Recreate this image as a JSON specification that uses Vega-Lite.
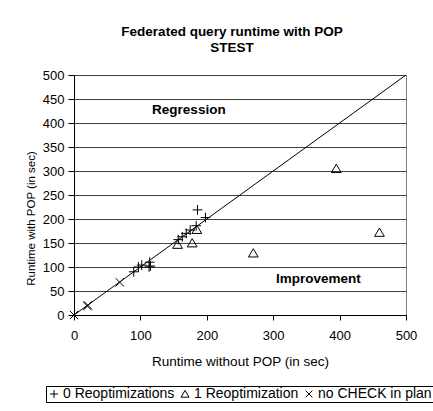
{
  "$schema": "https://vega.github.io/schema/vega-lite/v6.json",
  "width": 332,
  "height": 240,
  "autosize": {"type": "none"},
  "padding": {"left": 74, "top": 75, "right": 27, "bottom": 96},
  "title": {
    "text": ["Federated query runtime with POP", "STEST"],
    "fontSize": 13.5,
    "font": "Liberation Sans",
    "fontWeight": "bold",
    "lineHeight": 16,
    "anchor": "middle",
    "offset": 15,
    "dx": -8,
    "color": "black"
  },
  "config": {
    "view": {"stroke": "#808080"},
    "font": "Liberation Sans"
  },
  "encoding": {
    "x": {
      "field": "x",
      "type": "quantitative",
      "scale": {"domain": [0, 500], "nice": false},
      "axis": {
        "title": "Runtime without POP (in sec)",
        "values": [0, 100, 200, 300, 400, 500],
        "grid": false,
        "tickSize": 5,
        "tickColor": "black",
        "domainColor": "black",
        "labelFontSize": 13,
        "labelColor": "black",
        "labelPadding": 9,
        "labelFlush": false,
        "titleFontSize": 13.5,
        "titleFontWeight": "normal",
        "titleColor": "black",
        "titlePadding": 12
      }
    },
    "y": {
      "field": "y",
      "type": "quantitative",
      "scale": {"domain": [0, 500], "nice": false},
      "axis": {
        "title": "Runtime with POP (in sec)",
        "values": [0, 50, 100, 150, 200, 250, 300, 350, 400, 450, 500],
        "grid": true,
        "gridColor": "#404040",
        "gridOpacity": 1,
        "tickSize": 6,
        "tickColor": "black",
        "domainColor": "black",
        "labelFontSize": 13,
        "labelColor": "black",
        "labelPadding": 4,
        "labelFlush": false,
        "titleFontSize": 11.5,
        "titleFontWeight": "normal",
        "titleColor": "black",
        "titlePadding": 6,
        "titleY": 143
      }
    }
  },
  "layer": [
    {
      "data": {"values": [{"x": 0, "y": 0}, {"x": 500, "y": 500}]},
      "mark": {"type": "line", "color": "black", "strokeWidth": 1},
      "encoding": {}
    },
    {
      "data": {
        "values": [
          {"x": 90, "y": 90, "series": "0 Reoptimizations"},
          {"x": 97, "y": 100, "series": "0 Reoptimizations"},
          {"x": 102, "y": 104, "series": "0 Reoptimizations"},
          {"x": 113, "y": 100, "series": "0 Reoptimizations"},
          {"x": 115, "y": 102, "series": "0 Reoptimizations"},
          {"x": 114, "y": 110, "series": "0 Reoptimizations"},
          {"x": 157, "y": 157, "series": "0 Reoptimizations"},
          {"x": 163, "y": 163, "series": "0 Reoptimizations"},
          {"x": 169, "y": 170, "series": "0 Reoptimizations"},
          {"x": 175, "y": 177, "series": "0 Reoptimizations"},
          {"x": 184, "y": 186, "series": "0 Reoptimizations"},
          {"x": 186, "y": 219, "series": "0 Reoptimizations"},
          {"x": 198, "y": 203, "series": "0 Reoptimizations"},
          {"x": 156, "y": 147, "series": "1 Reoptimization"},
          {"x": 178, "y": 150, "series": "1 Reoptimization"},
          {"x": 185, "y": 178, "series": "1 Reoptimization"},
          {"x": 270, "y": 129, "series": "1 Reoptimization"},
          {"x": 395, "y": 305, "series": "1 Reoptimization"},
          {"x": 460, "y": 172, "series": "1 Reoptimization"},
          {"x": 0, "y": 0, "series": "no CHECK in plan"},
          {"x": 20, "y": 19, "series": "no CHECK in plan"},
          {"x": 21, "y": 20, "series": "no CHECK in plan"},
          {"x": 69, "y": 68, "series": "no CHECK in plan"}
        ]
      },
      "mark": {"type": "point", "filled": false, "stroke": "black", "strokeWidth": 1, "opacity": 1, "size": 95},
      "encoding": {
        "shape": {
          "field": "series",
          "type": "nominal",
          "scale": {
            "domain": ["0 Reoptimizations", "1 Reoptimization", "no CHECK in plan"],
            "range": ["M-1,0L1,0M0,-1L0,1", "M0,-0.9L1,0.8L-1,0.8Z", "M-0.85,-0.85L0.85,0.85M-0.85,0.85L0.85,-0.85"]
          },
          "legend": {
            "orient": "none",
            "legendX": -28,
            "legendY": 311,
            "direction": "horizontal",
            "columns": 3,
            "title": null,
            "strokeColor": "black",
            "padding": 1,
            "labelFontSize": 14,
            "labelColor": "black",
            "symbolSize": 64,
            "symbolStrokeColor": "black",
            "symbolFillColor": "transparent",
            "symbolStrokeWidth": 1,
            "columnPadding": 3,
            "labelOffset": 2
          }
        }
      }
    },
    {
      "data": {
        "values": [
          {"x": 173, "y": 427, "label": "Regression"},
          {"x": 368, "y": 76, "label": "Improvement"}
        ]
      },
      "mark": {"type": "text", "fontSize": 13.5, "fontWeight": "bold", "color": "black", "align": "center", "baseline": "middle"},
      "encoding": {"text": {"field": "label"}}
    }
  ]
}
